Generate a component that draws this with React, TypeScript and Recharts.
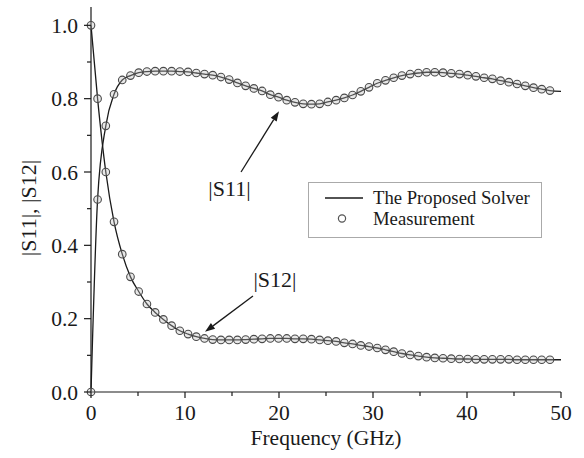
import React from "react";
import {
  ComposedChart,
  Line,
  Scatter,
  XAxis,
  YAxis,
  Legend,
  ReferenceLine,
  ReferenceDot,
} from "recharts";

const FONT = "Liberation Serif, Times New Roman, serif";
const INK = "#1a1a1a";
const TXT = { fontFamily: FONT, fontSize: 21.5, fill: INK };

// measurement frequencies (GHz)
const FREQ = [
  0, 0.7, 1.575, 2.45, 3.325, 4.2, 5.075, 5.95, 6.825, 7.7, 8.575, 9.45, 10.325, 11.2,
  12.075, 12.95, 13.825, 14.7, 15.575, 16.45, 17.325, 18.2, 19.075, 19.95, 20.825, 21.7,
  22.575, 23.45, 24.325, 25.2, 26.075, 26.95, 27.825, 28.7, 29.575, 30.45, 31.325, 32.2,
  33.075, 33.95, 34.825, 35.7, 36.575, 37.45, 38.325, 39.2, 40.075, 40.95, 41.825, 42.7,
  43.575, 44.45, 45.325, 46.2, 47.075, 47.95, 48.825,
];

const S11 = [
  0, 0.525, 0.726, 0.812, 0.851, 0.863, 0.871, 0.874, 0.875, 0.875, 0.875, 0.874, 0.873, 0.87,
  0.867, 0.864, 0.859, 0.852, 0.843, 0.835, 0.828, 0.821, 0.811, 0.804, 0.796, 0.79, 0.786,
  0.785, 0.786, 0.791, 0.796, 0.802, 0.81, 0.82, 0.831, 0.842, 0.85, 0.857, 0.863, 0.867,
  0.87, 0.872, 0.872, 0.871, 0.869, 0.867, 0.864, 0.861, 0.857, 0.854, 0.849, 0.845, 0.84,
  0.835, 0.83, 0.826, 0.822,
];

const S12 = [
  1.0, 0.8, 0.6, 0.464, 0.376, 0.314, 0.274, 0.24, 0.217, 0.198, 0.181, 0.167, 0.158, 0.151,
  0.146, 0.143, 0.142, 0.142, 0.142, 0.143, 0.144, 0.145, 0.146, 0.146, 0.146, 0.145, 0.145,
  0.144, 0.142, 0.14, 0.138, 0.134, 0.131, 0.127, 0.124, 0.12, 0.115, 0.11, 0.105, 0.101,
  0.098, 0.095, 0.093, 0.092, 0.091, 0.09, 0.09, 0.089, 0.089, 0.089, 0.089, 0.089, 0.088,
  0.088, 0.088, 0.088, 0.088,
];

// the solver curve runs on to the end of the axis
const SOLVER_END = { f: 50, s11: 0.82, s12: 0.088 };

const X_TICKS = [0, 5, 10, 15, 20, 25, 30, 35, 40, 45, 50];
const Y_TICKS = [0, 0.1, 0.2, 0.3, 0.4, 0.5, 0.6, 0.7, 0.8, 0.9, 1.0];

const LEGEND_NAMES = ["The Proposed Solver", "Measurement"];

// annotation arrows [tail, head] and their labels, in data units
const ARROWS = [
  [{ x: 15.96, y: 0.6 }, { x: 20.0, y: 0.766 }],
  [{ x: 17.23, y: 0.262 }, { x: 12.13, y: 0.164 }],
];
const NOTES = [
  { x: 14.73, y: 0.556, text: "|S11|" },
  { x: 19.57, y: 0.308, text: "|S12|" },
];

const measData = FREQ.map((f, i) => ({ f, s11: S11[i], s12: S12[i] }));
const solverData = [...measData, SOLVER_END];

const XTick = (props: any) => {
  const { x, y, payload } = props;
  const major = payload.value % 10 === 0;
  return (
    <g>
      <line x1={x} y1={y} x2={x} y2={y + (major ? 6 : 4)} stroke={INK} strokeWidth={1.2} />
      {major && (
        <text x={x} y={y + 28} textAnchor="middle" style={TXT}>
          {payload.value}
        </text>
      )}
    </g>
  );
};

const YTick = (props: any) => {
  const { x, y, payload } = props;
  const major = Math.round(payload.value * 10) % 2 === 0;
  return (
    <g>
      <line x1={x} y1={y} x2={x - (major ? 7 : 4)} y2={y} stroke={INK} strokeWidth={1.2} />
      {major && (
        <text x={x - 13} y={y + 7.5} textAnchor="end" style={TXT}>
          {payload.value.toFixed(1)}
        </text>
      )}
    </g>
  );
};

const arrowShape = (props: any) => {
  const { x1, y1, x2, y2 } = props;
  const ang = Math.atan2(y2 - y1, x2 - x1);
  const len = 10;
  const half = 3.5;
  const bx = x2 - len * Math.cos(ang);
  const by = y2 - len * Math.sin(ang);
  const px = -Math.sin(ang) * half;
  const py = Math.cos(ang) * half;
  return (
    <g>
      <line x1={x1} y1={y1} x2={bx} y2={by} stroke={INK} strokeWidth={1.3} />
      <polygon points={`${x2},${y2} ${bx + px},${by + py} ${bx - px},${by - py}`} fill={INK} />
    </g>
  );
};

const LegendBox = () => (
  <svg width={234} height={56} style={{ display: "block" }}>
    <rect x={0.5} y={0.5} width={233} height={55} fill="#fff" stroke="#aaa" strokeWidth={1} />
    <line x1={17} y1={16} x2={55} y2={16} stroke={INK} strokeWidth={1.5} />
    <text x={65} y={21.5} style={{ ...TXT, fontSize: 18.7 }}>
      {LEGEND_NAMES[0]}
    </text>
    <circle cx={34} cy={36.5} r={3.6} fill="none" stroke="#555" strokeWidth={1.2} />
    <text x={65} y={43} style={{ ...TXT, fontSize: 18.7 }}>
      {LEGEND_NAMES[1]}
    </text>
  </svg>
);

const circleShape = (p: any) => (
  <circle cx={p.cx} cy={p.cy} r={3.8} fill="rgba(190,190,190,0.35)" stroke="#4a4a4a" strokeWidth={1.1} />
);

const XLabel = (props: any) => {
  const vb = props.viewBox;
  return (
    <text x={vb.x + vb.width / 2} y={vb.y + 53} textAnchor="middle" style={TXT}>
      Frequency (GHz)
    </text>
  );
};

const YLabel = (props: any) => {
  const vb = props.viewBox;
  const cx = 36;
  const cy = vb.y + vb.height / 2 + 8.5;
  return (
    <text
      x={cx}
      y={cy}
      textAnchor="middle"
      style={{ ...TXT, fontSize: 22 }}
      transform={`rotate(-90, ${cx}, ${cy})`}
    >
      |S11|, |S12|
    </text>
  );
};

export default function App() {
  return (
    <div
      style={{
        position: "absolute",
        left: 0,
        top: 0,
        width: 584,
        height: 458,
        background: "#fff",
        fontFamily: FONT,
      }}
    >
      <ComposedChart
        width={584}
        height={458}
        margin={{ top: 7, right: 23, bottom: 0, left: 0 }}
        style={{ fontFamily: FONT }}
      >
        <XAxis
          dataKey="f"
          type="number"
          domain={[0, 50]}
          ticks={X_TICKS}
          interval={0}
          tick={XTick}
          tickLine={false}
          tickSize={0}
          tickMargin={0}
          height={66}
          axisLine={{ stroke: INK, strokeWidth: 1.2 }}
          label={{ content: XLabel }}
        />
        <XAxis
          xAxisId="top"
          orientation="top"
          type="number"
          domain={[0, 50]}
          height={0}
          tick={false}
          tickLine={false}
          axisLine={{ stroke: INK, strokeWidth: 1.2 }}
        />
        <YAxis
          type="number"
          domain={[0, 1.05]}
          ticks={Y_TICKS}
          interval={0}
          tick={YTick}
          tickLine={false}
          tickSize={0}
          tickMargin={0}
          width={91}
          axisLine={{ stroke: INK, strokeWidth: 1.2 }}
          label={{ content: YLabel }}
        />
        <YAxis
          yAxisId="right"
          orientation="right"
          type="number"
          domain={[0, 1.05]}
          width={0}
          tick={false}
          tickLine={false}
          axisLine={{ stroke: INK, strokeWidth: 1.2 }}
        />

        <Line
          data={solverData}
          dataKey="s11"
          name={LEGEND_NAMES[0]}
          type="monotone"
          stroke={INK}
          strokeWidth={1.3}
          dot={false}
          isAnimationActive={false}
        />
        <Line
          data={solverData}
          dataKey="s12"
          name={LEGEND_NAMES[0]}
          legendType="none"
          type="monotone"
          stroke={INK}
          strokeWidth={1.3}
          dot={false}
          isAnimationActive={false}
        />
        <Scatter
          data={measData}
          dataKey="s11"
          name={LEGEND_NAMES[1]}
          shape={circleShape}
          isAnimationActive={false}
        />
        <Scatter
          data={measData}
          dataKey="s12"
          name={LEGEND_NAMES[1]}
          legendType="none"
          shape={circleShape}
          isAnimationActive={false}
        />

        {ARROWS.map((seg, i) => (
          <ReferenceLine key={`arrow-${i}`} segment={seg} shape={arrowShape} />
        ))}
        {NOTES.map((n) => (
          <ReferenceDot
            key={n.text}
            x={n.x}
            y={n.y}
            r={1}
            fill="none"
            stroke="none"
            label={{ value: n.text, position: "center", style: { ...TXT, fontSize: 22 } }}
          />
        ))}

        <Legend
          layout="horizontal"
          align="center"
          verticalAlign="middle"
          content={LegendBox}
          wrapperStyle={{ left: 308, top: 182, width: 234, height: 56 }}
        />
      </ComposedChart>
    </div>
  );
}
